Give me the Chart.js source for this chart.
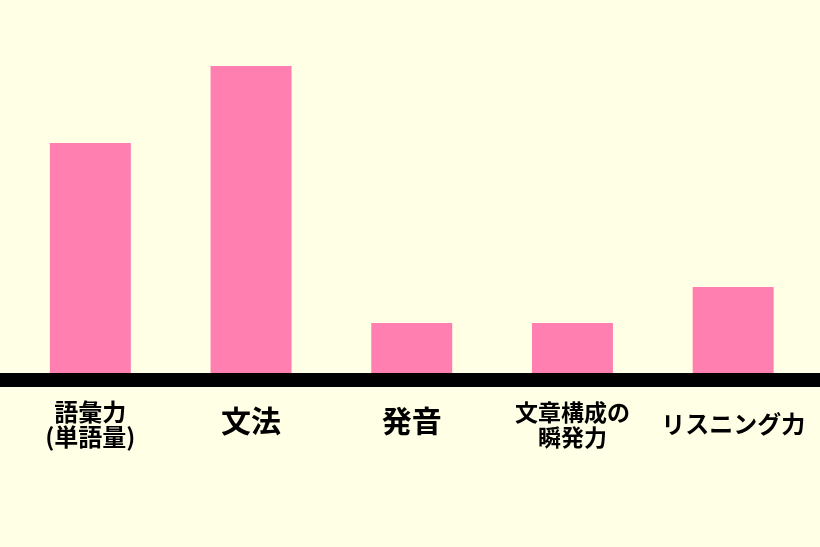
<!DOCTYPE html>
<html>
<head>
<meta charset="utf-8">
<script src="https://cdn.jsdelivr.net/npm/chart.js@4"></script>
<style>
html,body{margin:0;padding:0;background:#FFFFE6;}
#wrap{width:820px;height:547px;}
</style>
</head>
<body>
<div id="wrap"><canvas id="c" width="820" height="547"></canvas></div>
<script>
const categories = [["語彙力","(単語量)"], "文法", "発音", ["文章構成の","瞬発力"], "リスニング力"];
const values = [4.6, 6.14, 1.0, 1.0, 1.72];
const labelSizes = [24, 30, 30, 23, 24];

const baselinePlugin = {
  id: 'baseline',
  afterDatasetsDraw(chart) {
    const ctx = chart.ctx;
    const y = chart.scales.y.getPixelForValue(0);
    ctx.save();
    ctx.fillStyle = '#000000';
    ctx.fillRect(0, y, chart.width, 14);
    ctx.restore();
  }
};
const bgPlugin = {
  id: 'bg',
  beforeDraw(chart) {
    const ctx = chart.ctx;
    ctx.save();
    ctx.fillStyle = '#FFFFE6';
    ctx.fillRect(0, 0, chart.width, chart.height);
    ctx.restore();
  }
};

new Chart(document.getElementById('c'), {
  type: 'bar',
  data: {
    labels: categories,
    datasets: [{
      data: values,
      backgroundColor: '#FF80B0',
      borderWidth: 0,
      barPercentage: 0.504,
      categoryPercentage: 1.0
    }]
  },
  options: {
    responsive: false,
    animation: false,
    devicePixelRatio: 1,
    layout: { padding: { top: 23, left: 10, right: 6.5, bottom: 0 } },
    plugins: { legend: { display: false }, tooltip: { enabled: false } },
    scales: {
      y: { display: false, min: 0, max: 7 },
      x: {
        grid: { display: false, drawTicks: true, tickLength: 38.5 },
        border: { display: false },
        afterFit(scale) { scale.height = 174; },
        ticks: {
          color: '#000000',
          maxRotation: 0,
          autoSkip: false,
          crossAlign: 'center',
          padding: 0,
          font: (ctx) => ({
            family: '"Noto Sans CJK JP", sans-serif',
            size: labelSizes[ctx.index] || 24,
            weight: 'bold',
            lineHeight: 1.06
          })
        }
      }
    }
  },
  plugins: [bgPlugin, baselinePlugin]
});
</script>
</body>
</html>
